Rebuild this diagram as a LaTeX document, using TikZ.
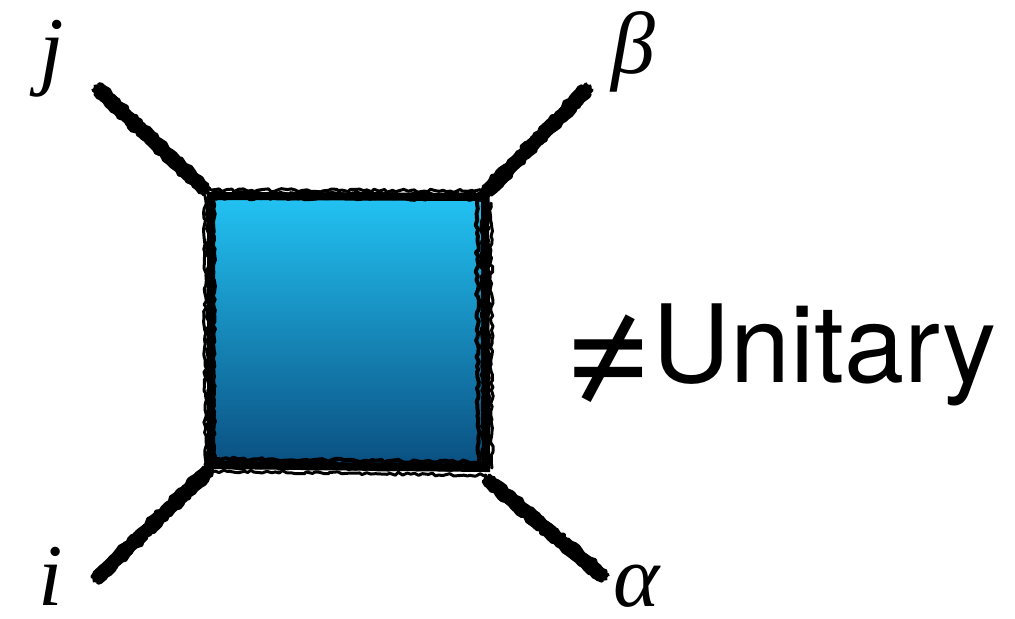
\documentclass[tikz,border=0pt]{standalone}
\usepackage{fontspec}
\setsansfont{TeX Gyre Heros}
\newfontfamily\tms{Liberation Serif}
\usetikzlibrary{decorations.pathmorphing}
\definecolor{topblue}{HTML}{22C3F3}
\definecolor{botblue}{HTML}{0A4E80}
\begin{document}
\begin{tikzpicture}[x=0.5pt,y=-0.5pt,
  boxfill/.style={draw=none,top color=topblue,bottom color=botblue,minimum width=136pt,minimum height=136pt,inner sep=0pt},
  rough/.style={line width=#1,decorate,decoration={random steps,segment length=2pt,amplitude=0.8pt},line cap=round,line join=round},
  rough/.default=1.6pt,
  legcore/.style={line width=6pt,line cap=round},
  lbl/.style={inner sep=0pt,font=\tms\itshape\fontsize{44}{50}\selectfont},
  txt/.style={inner sep=0pt,anchor=base west,font=\sffamily\fontsize{54}{60}\selectfont}]
\useasboundingbox (0,0) rectangle (1015,618);
\pgfmathsetseed{11}
% box
\node[boxfill] (box) at (348,332) {};
\coordinate (nw) at (211,196);
\coordinate (ne) at (485,197);
\coordinate (se) at (486,468);
\coordinate (sw) at (211,465);
\draw[line width=4pt] (nw) -- (ne) -- (se) -- (sw) -- cycle;
\foreach \dx/\dy in {-2/-2,2/2,-3/1,1/-3,3/0}{
  \draw[rough=1.5pt] ([shift={(\dx,\dy)}]nw) -- ([shift={(\dx,\dy)}]ne) -- ([shift={(\dx,\dy)}]se) -- ([shift={(\dx,\dy)}]sw) -- cycle;
}
\draw[rough=2pt] ([shift={(-8,4)}]ne) -- ([shift={(-8,-4)}]se);
\draw[rough=1.5pt] ([shift={(6,6)}]ne) -- ([shift={(6,0)}]se);
\draw[rough=2pt] ([shift={(6,-6)}]sw) -- ([shift={(-6,-6)}]se);
\draw[rough=1.5pt] ([shift={(4,6)}]sw) -- ([shift={(0,7)}]se);
\draw[rough=1.5pt] ([shift={(-6,0)}]sw) -- ([shift={(-6,0)}]nw);
\draw[rough=1.5pt] ([shift={(0,-6)}]nw) -- ([shift={(0,-6)}]ne);
% leg end points
\coordinate (jend) at (99,90);
\coordinate (bend) at (586,90);
\coordinate (iend) at (98,577);
\coordinate (aend) at (602,575);
\coordinate (jin) at (204,189);
\coordinate (bin) at (487,191);
\coordinate (iin) at (208,471);
\coordinate (ain) at (489,481);
\foreach \a/\b in {jend/jin,bend/bin,iend/iin,aend/ain}{
  \draw[legcore] (\a) -- (\b);
  \foreach \dx/\dy in {0/-6,0/6,-6/0,6/0,4/4,-4/-4,4/-4,-4/4}{
    \draw[rough=1.8pt] ([shift={(\dx,\dy)}]\a) -- ([shift={(\dx,\dy)}]\b);
  }
}
% labels
\node[lbl] (j) at (52,59) {j};
\node[lbl] (beta) at (633,52) {β};
\node[lbl] (i) at (51,576) {i};
\node[lbl] (alpha) at (637,586) {α};
\node[txt] (nu) at (564,382) {\raisebox{-7pt}{\scalebox{1.4}{≠}}Unitary};
\end{tikzpicture}
\end{document}
